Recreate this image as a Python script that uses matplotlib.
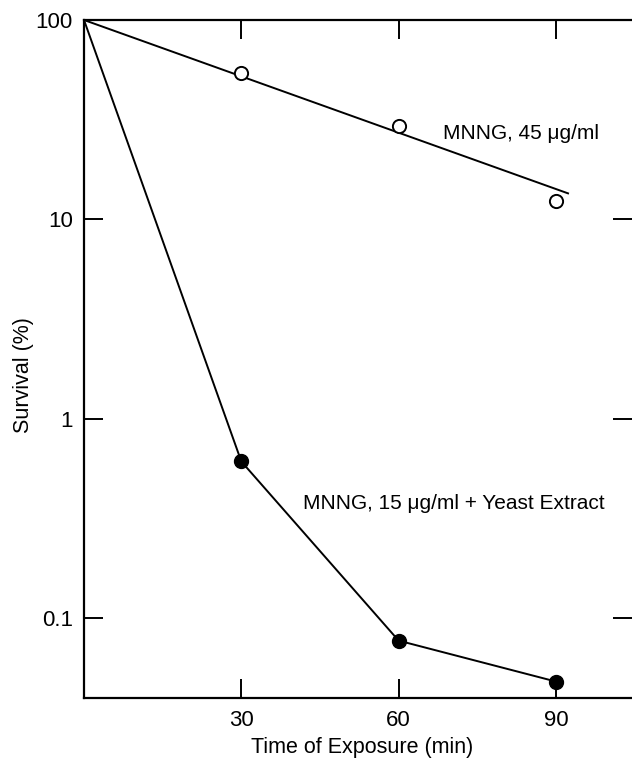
import matplotlib
matplotlib.use("Agg")
import matplotlib.pyplot as plt
from matplotlib.ticker import FixedLocator, NullLocator

plt.rcParams['font.family'] = ['Liberation Sans', 'DejaVu Sans']

## Dados
tempo = [30, 60, 90]
mnng_45 = [54, 29.5, 12.4]
ajuste_x = [0, 92.3]
ajuste_y = [100, 13.5]

tempo_levedura = [0, 30, 60, 90]
mnng_15_levedura = [100, 0.61, 0.077, 0.048]

x_ticks = [30, 60, 90]
y_ticks = [0.1, 1, 10, 100]
y_labels = ["0.1", "1", "10", "100"]

## Figura
fig = plt.figure(figsize=(6.32, 7.61), dpi=100)
ax = fig.add_axes([84 / 632, 63 / 761, (632 - 84) / 632, (698 - 20) / 761])

ax.set_yscale("log")
ax.set_xlim(0, 104.5)
ax.set_ylim(0.0397, 100)

ax.plot(ajuste_x, ajuste_y, color="black", lw=1.4)
ax.plot(tempo, mnng_45, "o", mfc="white", mec="black", mew=1.4, ms=9.5)

ax.plot(tempo_levedura, mnng_15_levedura, color="black", lw=1.4)
ax.plot(tempo_levedura[1:], mnng_15_levedura[1:], "o", color="black", ms=10)

ax.text(68.5, 27.1, "MNNG, 45 μg/ml", fontsize=15, va="center", ha="left")
ax.text(41.8, 0.377, "MNNG, 15 μg/ml + Yeast Extract", fontsize=15, va="center", ha="left")

## Eixos
ax.spines["right"].set_visible(False)
for s in ["left", "top", "bottom"]:
    ax.spines[s].set_linewidth(1.6)

ax.xaxis.set_major_locator(FixedLocator(x_ticks))
ax.xaxis.set_minor_locator(NullLocator())
ax.yaxis.set_major_locator(FixedLocator(y_ticks))
ax.yaxis.set_minor_locator(NullLocator())
ax.set_xticklabels([str(t) for t in x_ticks])
ax.set_yticklabels(y_labels)

ax.tick_params(axis="both", which="major", direction="in", length=13.5, width=1.4,
               top=True, right=True, labelsize=16)
ax.tick_params(axis="x", pad=9)
ax.tick_params(axis="y", pad=8)

ax.set_xlabel("Time of Exposure (min)", fontsize=15.5)
ax.set_ylabel("Survival (%)", fontsize=15.5)
ax.xaxis.label.set_va("center")
ax.yaxis.label.set_va("center")
ax.xaxis.set_label_coords((362 - 84) / 548, -(747 - 698) / 678)
ax.yaxis.set_label_coords(-(84 - 24) / 548, (698 - 375) / 678)

fig.savefig("out.png", dpi=100)
